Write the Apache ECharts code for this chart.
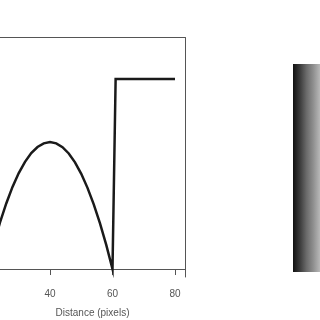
<!DOCTYPE html>
<html>
<head>
<meta charset="utf-8">
<script src="https://cdn.jsdelivr.net/npm/echarts@6/dist/echarts.min.js"></script>
<style>html,body{margin:0;padding:0;background:#fff;}#c{width:320px;height:320px;}</style>
</head>
<body>
<div id="c"></div>
<script>
// Profile data (x = distance in pixels, y = arbitrary intensity units)
const distance = [20,22,24,26,28,30,32,34,36,38,40,42,44,46,48,50,52,54,56,58,60,61,80];
const profile  = [0,12.7,24.5,34.5,43.2,50.5,56.4,61.0,64.2,66.1,66.8,66.1,64.1,60.8,56.1,50.1,42.7,34.0,24.0,12.7,0,100,100];
const xTicks = [0,20,40,60,80];
const gradientStops = ['#111111','#3a3a3a','#6a6a6a','#8f8f8f','#b8b8b8'];

const chart = echarts.init(document.getElementById('c'), null, {renderer:'canvas'});
const data = distance.map((d,i)=>[d, profile[i]]);
const xMin = 24, xMax = 83.2;
chart.setOption({
  animation:false,
  grid:{left:0, right:135, top:37.5, bottom:43, show:false, containLabel:false, outerBoundsMode:'none'},
  xAxis:[{
    type:'value', min:xMin, max:xMax, position:'bottom',
    name:'Distance (pixels)', nameLocation:'middle', nameGap:31,
    nameTextStyle:{fontFamily:'Liberation Sans', fontSize:10, color:'#555'},
    axisLine:{show:true, lineStyle:{color:'#555', width:1}},
    axisTick:{show:true, length:6, lineStyle:{color:'#555'}, customValues:xTicks.filter(v=>v>=xMin)},
    axisLabel:{show:true, margin:12, fontFamily:'Liberation Sans', fontSize:10, color:'#555', customValues:xTicks.filter(v=>v>=xMin)},
    splitLine:{show:false}
  },{
    type:'value', min:xMin, max:xMax, position:'top',
    axisLine:{show:true, lineStyle:{color:'#555', width:1}},
    axisTick:{show:false}, axisLabel:{show:false}, splitLine:{show:false}
  }],
  yAxis:{
    type:'value', min:-4.2, max:121.8, position:'right',
    axisLine:{show:true, lineStyle:{color:'#555', width:1}}, axisTick:{show:false}, axisLabel:{show:false}, splitLine:{show:false}
  },
  series:[{
    type:'line', data:data, smooth:false, showSymbol:false, symbol:'none', clip:true,
    lineStyle:{color:'#1a1a1a', width:2.5, join:'miter'}
  }],
  graphic:[{
    type:'rect', shape:{x:293, y:64, width:40, height:208},
    style:{fill:new echarts.graphic.LinearGradient(0,0,1,0,
      gradientStops.map((c,i)=>({offset:i/(gradientStops.length-1)*0.675, color:c})).concat([{offset:1, color:'#d0d0d0'}]))}
  }]
});
</script>
</body>
</html>
